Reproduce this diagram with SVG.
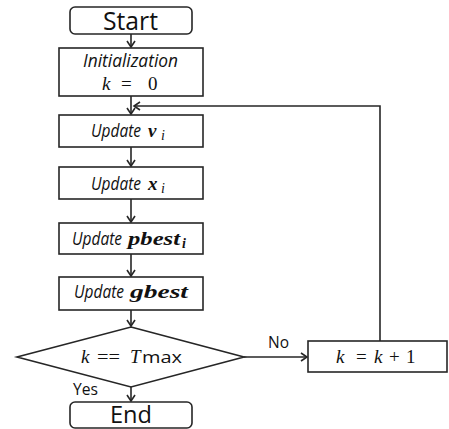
<svg xmlns="http://www.w3.org/2000/svg" width="449" height="429" viewBox="0 0 449 429">
<style>
.box{fill:#fff;stroke:#262626;stroke-width:1.6}
.ln{fill:none;stroke:#262626;stroke-width:1.6}
.t{font-family:"Open Sans","Liberation Sans",sans-serif;fill:#111}
.c{text-anchor:middle}
.it{font-style:italic}
.m{font-family:"Liberation Serif","DejaVu Serif",serif;font-style:italic;fill:#111}
.mn{font-family:"Liberation Serif","DejaVu Serif",serif;font-style:normal;fill:#111}
.mb{font-family:"Liberation Serif","DejaVu Serif",serif;font-style:italic;font-weight:bold;fill:#111}
</style>
<defs>
<marker id="ah" markerWidth="10" markerHeight="10" refX="8" refY="5" orient="auto" markerUnits="userSpaceOnUse">
<path d="M2,1 L8,5 L2,9" fill="none" stroke="#262626" stroke-width="1.6"/>
</marker>
</defs>
<g id="connectors">
<line class="ln" x1="131" y1="34" x2="131" y2="47" marker-end="url(#ah)"/>
<line class="ln" x1="131" y1="96" x2="131" y2="114" marker-end="url(#ah)"/>
<line class="ln" x1="131" y1="147" x2="131" y2="166" marker-end="url(#ah)"/>
<line class="ln" x1="131" y1="199" x2="131" y2="222" marker-end="url(#ah)"/>
<line class="ln" x1="131" y1="254" x2="131" y2="276" marker-end="url(#ah)"/>
<line class="ln" x1="131" y1="310" x2="131" y2="326" marker-end="url(#ah)"/>
<line class="ln" x1="131" y1="387" x2="131" y2="401" marker-end="url(#ah)"/>
<line class="ln" x1="244" y1="357" x2="307" y2="357" marker-end="url(#ah)"/>
<polyline class="ln" points="380,341 380,106 134,106" marker-end="url(#ah)"/>
<text class="t" x="268" y="348" font-size="16" textLength="21" lengthAdjust="spacingAndGlyphs">No</text>
<text class="t" x="73" y="395" font-size="16" textLength="25" lengthAdjust="spacingAndGlyphs">Yes</text>
</g>
<g id="start">
<rect class="box" x="70" y="7" width="122" height="27" rx="5"/>
<text class="t" x="103" y="30" font-size="25" textLength="55" lengthAdjust="spacingAndGlyphs">Start</text>
</g>
<g id="init">
<rect class="box" x="59" y="48" width="144" height="48"/>
<text class="t it" x="83" y="67" font-size="18" textLength="95" lengthAdjust="spacingAndGlyphs">Initialization</text>
<text class="m" x="102" y="90" font-size="19">k</text>
<text class="mn" x="121" y="90" font-size="19">=</text>
<text class="mn" x="148" y="90" font-size="19">0</text>
</g>
<g id="update-v">
<rect class="box" x="59" y="115" width="144" height="32"/>
<text class="t it" x="91" y="137" font-size="18" textLength="50" lengthAdjust="spacingAndGlyphs">Update</text>
<text class="mb" x="148" y="137" font-size="19">v</text>
<text class="m" x="161" y="140" font-size="14">i</text>
</g>
<g id="update-x">
<rect class="box" x="59" y="167" width="144" height="32"/>
<text class="t it" x="91" y="190" font-size="18" textLength="50" lengthAdjust="spacingAndGlyphs">Update</text>
<text class="mb" x="148" y="190" font-size="19">x</text>
<text class="m" x="161" y="193" font-size="14">i</text>
</g>
<g id="update-pbest">
<rect class="box" x="59" y="223" width="144" height="31"/>
<text class="t it" x="72" y="245" font-size="18" textLength="50" lengthAdjust="spacingAndGlyphs">Update</text>
<text class="mb" x="128" y="245" font-size="19" textLength="52" lengthAdjust="spacingAndGlyphs">pbest</text>
<text class="mb" x="182" y="248" font-size="14">i</text>
</g>
<g id="update-gbest">
<rect class="box" x="59" y="277" width="144" height="33"/>
<text class="t it" x="74" y="298" font-size="18" textLength="50" lengthAdjust="spacingAndGlyphs">Update</text>
<text class="mb" x="130" y="298" font-size="19" textLength="58" lengthAdjust="spacingAndGlyphs">gbest</text>
</g>
<g id="decision">
<polygon class="box" points="131,327 244,357 131,387 17,357"/>
<text class="m" x="81" y="363" font-size="19">k</text>
<text class="mn" x="97" y="363" font-size="19" textLength="23" lengthAdjust="spacingAndGlyphs">==</text>
<text class="m" x="130" y="363" font-size="19">T</text>
<text class="t" x="142" y="363" font-size="17" textLength="40" lengthAdjust="spacingAndGlyphs">max</text>
</g>
<g id="end">
<rect class="box" x="70" y="402" width="122" height="26" rx="5"/>
<text class="t" x="110" y="423" font-size="24" textLength="42" lengthAdjust="spacingAndGlyphs">End</text>
</g>
<g id="increment">
<rect class="box" x="308" y="341" width="139" height="31"/>
<text class="m" x="336" y="363" font-size="19">k</text>
<text class="mn" x="356" y="363" font-size="19">=</text>
<text class="m" x="374" y="363" font-size="19">k</text>
<text class="mn" x="389" y="363" font-size="19">+</text>
<text class="mn" x="406" y="363" font-size="19">1</text>
</g>
</svg>
